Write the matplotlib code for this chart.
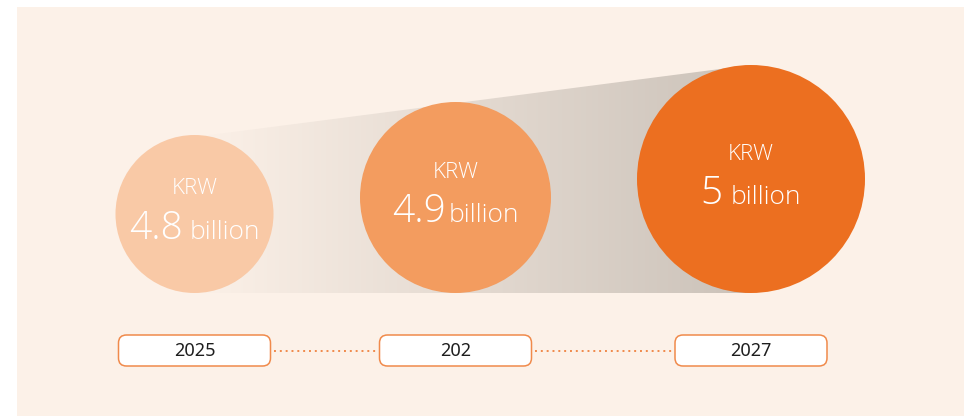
import numpy as np
import matplotlib.pyplot as plt
from matplotlib.patches import Circle, Rectangle, Polygon, FancyBboxPatch
from matplotlib.colors import to_rgb

# budget per year (KRW, billions)
years = ['2025', '202', '2027']
values = [4.8, 4.9, 5]
value_text = ['4.8', '4.9', '5']

# layout in pixels
centers_x = [194.5, 455.5, 751]
radii = [79, 95.5, 114]
base_y = 293
gaps = [7, 3, 8]
circle_colors = ['#f9c9a6', '#f39c5f', '#ec6f20']
bg = '#fcf1e8'
shade = '#cbc2b9'
edge = '#f08a4b'

W, H = 964, 416
fig = plt.figure(figsize=(W / 100, H / 100), dpi=100, facecolor='white')
ax = fig.add_axes([0, 0, 1, 1])
ax.set_xlim(0, W)
ax.set_ylim(H, 0)
ax.axis('off')

ax.add_patch(Rectangle((17, 7), W - 17, H - 7, facecolor=bg, edgecolor='none', zorder=0))

# tapering shadow band behind the circles
x0, x1 = centers_x[0], centers_x[-1]
top0 = base_y - 2 * radii[0]
top1 = base_y - 2 * radii[-1]
band = Polygon([(x0, top0 + 2), (x1, top1), (x1, base_y), (x0, base_y)],
               closed=True, facecolor='none', edgecolor='none')
ax.add_patch(band)
t = np.linspace(0, 1, 300)
c0, c1 = np.array(to_rgb(bg)), np.array(to_rgb(shade))
grad = (c0[None, :] * (1 - t[:, None]) + c1[None, :] * t[:, None])[None, :, :]
im = ax.imshow(grad, extent=(x0, x1, base_y, top1), aspect='auto', zorder=1,
               interpolation='bilinear')
im.set_clip_path(band)
ax.set_xlim(0, W)
ax.set_ylim(H, 0)

font = ['Open Sans', 'DejaVu Sans']
num_texts, unit_texts = [], []
for cx, r, col, v, vt in zip(centers_x, radii, circle_colors, values, value_text):
    cy = base_y - r
    ax.add_patch(Circle((cx, cy), r, facecolor=col, edgecolor='none', zorder=2))
    ax.text(cx, cy - 25, 'KRW', ha='center', va='center', color='white',
            fontsize=16, family=font, fontweight='light', zorder=3)
    n = ax.text(cx, cy + 25, vt, ha='left', va='baseline', color='white',
                fontsize=28, family=font, fontweight='light', zorder=3)
    u = ax.text(cx, cy + 25, 'billion', ha='left', va='baseline', color='white',
                fontsize=19, family=font, fontweight='light', zorder=3)
    num_texts.append(n)
    unit_texts.append(u)

# center "number + billion" as one line inside each circle
fig.canvas.draw()
r_ = fig.canvas.get_renderer()
for cx, g, n, u in zip(centers_x, gaps, num_texts, unit_texts):
    wn = n.get_window_extent(r_).width
    wu = u.get_window_extent(r_).width
    left = cx - (wn + g + wu) / 2
    n.set_x(left)
    u.set_x(left + wn + g)

# year boxes joined by dotted lines
box_w, box_h, box_y = 152, 31, 335
for i, (cx, yr) in enumerate(zip(centers_x, years)):
    ax.add_patch(FancyBboxPatch((cx - box_w / 2, box_y), box_w, box_h,
                                boxstyle='round,pad=0,rounding_size=8',
                                facecolor='white', edgecolor=edge, lw=1.1, zorder=3))
    ax.text(cx, box_y + box_h / 2 + 1, yr, ha='center', va='center', color='#1e1e1e',
            fontsize=13, family=['Noto Sans', 'DejaVu Sans'], zorder=4)
    if i > 0:
        ax.plot([centers_x[i - 1] + box_w / 2 + 3, cx - box_w / 2 - 3],
                [box_y + box_h / 2] * 2, color=edge, lw=1.4,
                linestyle=(0, (1, 2)), zorder=2)

fig.savefig('out.png', dpi=100, facecolor='white')
